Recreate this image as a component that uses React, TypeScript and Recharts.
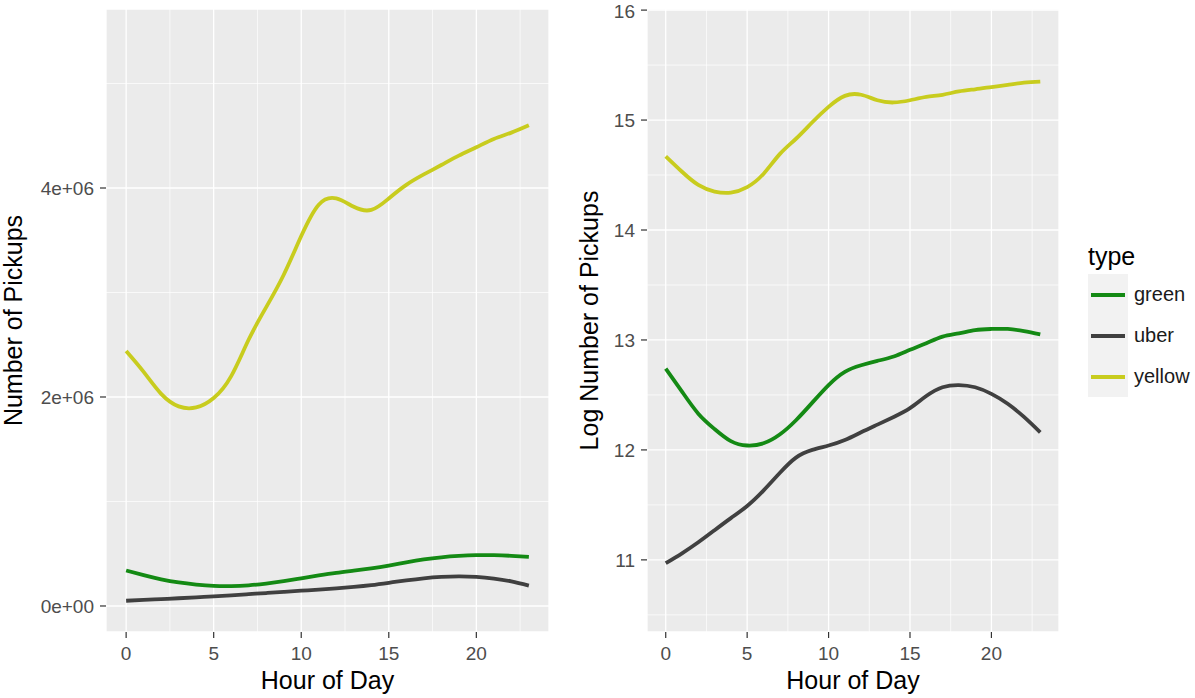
import React from 'react';
import { LineChart, Line, XAxis, YAxis, CartesianGrid, ReferenceLine, Label } from 'recharts';

// Hour of day, 0..23
const hours = [0, 1, 2, 3, 4, 5, 6, 7, 8, 9, 10, 11, 12, 13, 14, 15, 16, 17, 18, 19, 20, 21, 22, 23];

// Left panel: raw pickups (smoothed)
const rawYellow = [2.44e6, 2.24e6, 2.03e6, 1.91e6, 1.9e6, 1.99e6, 2.2e6, 2.55e6, 2.86e6, 3.17e6, 3.54e6, 3.84e6, 3.9e6, 3.82e6, 3.79e6, 3.9e6, 4.03e6, 4.13e6, 4.22e6, 4.31e6, 4.39e6, 4.47e6, 4.53e6, 4.6e6];
const rawGreen = [0.34e6, 0.295e6, 0.255e6, 0.225e6, 0.205e6, 0.192e6, 0.19e6, 0.198e6, 0.215e6, 0.238e6, 0.265e6, 0.292e6, 0.317e6, 0.338e6, 0.36e6, 0.387e6, 0.418e6, 0.446e6, 0.466e6, 0.479e6, 0.486e6, 0.486e6, 0.48e6, 0.47e6];
const rawUber = [0.05e6, 0.058e6, 0.066e6, 0.074e6, 0.083e6, 0.092e6, 0.102e6, 0.113e6, 0.124e6, 0.135e6, 0.146e6, 0.157e6, 0.169e6, 0.183e6, 0.2e6, 0.222e6, 0.245e6, 0.265e6, 0.278e6, 0.283e6, 0.278e6, 0.262e6, 0.235e6, 0.195e6];

// Right panel: log pickups (smoothed)
const logYellow = [14.67, 14.53, 14.41, 14.35, 14.34, 14.39, 14.51, 14.69, 14.83, 14.98, 15.12, 15.22, 15.23, 15.18, 15.16, 15.18, 15.21, 15.23, 15.26, 15.28, 15.3, 15.32, 15.34, 15.35];
const logGreen = [12.74, 12.53, 12.33, 12.19, 12.08, 12.04, 12.06, 12.14, 12.27, 12.43, 12.59, 12.71, 12.77, 12.81, 12.85, 12.91, 12.97, 13.03, 13.06, 13.09, 13.1, 13.1, 13.08, 13.05];
const logUber = [10.97, 11.06, 11.16, 11.27, 11.38, 11.49, 11.63, 11.79, 11.93, 12.0, 12.04, 12.09, 12.16, 12.23, 12.3, 12.38, 12.49, 12.57, 12.59, 12.57, 12.51, 12.42, 12.3, 12.16];

const xTicks = [0, 5, 10, 15, 20];
const xMinor = [2.5, 7.5, 12.5, 17.5, 22.5];
const rawTicks = [0, 2e6, 4e6];
const rawMinor = [1e6, 3e6, 5e6];
const logTicks = [11, 12, 13, 14, 15, 16];
const logMinor = [10.5, 11.5, 12.5, 13.5, 14.5, 15.5];

const seriesTypes = ['green', 'uber', 'yellow'];
const colors: Record<string, string> = { green: '#148a14', uber: '#404040', yellow: '#c8cc1e' };

const leftData = hours.map((h, i) => ({ hour: h, green: rawGreen[i], uber: rawUber[i], yellow: rawYellow[i] }));
const rightData = hours.map((h, i) => ({ hour: h, green: logGreen[i], uber: logUber[i], yellow: logYellow[i] }));

const FONT = '"Liberation Sans", Arial, Helvetica, sans-serif';
const tickStyle = { fill: '#4d4d4d', fontSize: 19, fontFamily: FONT };

// R style scientific label, e.g. 2e+06
const sci = (v: number) => {
    if (v === 0) return '0e+00';
    const [m, e] = v.toExponential(0).split('e');
    const n = Math.abs(parseInt(e, 10));
    return `${m}e${e[0]}${n < 10 ? '0' + n : n}`;
};

const yTitle = (text: string, x: number) => (props: any) => {
    const vb = props.viewBox;
    const cy = vb.y + vb.height / 2;
    return (
        <text x={x} y={cy} transform={`rotate(-90 ${x} ${cy})`} textAnchor="middle" fontSize={25} fontFamily={FONT} fill="#000">
            {text}
        </text>
    );
};

const Panel = ({ data, domain, ticks, minor, fmt, yWidth, width, title, titleX }: any) => (
    <LineChart width={width} height={698} data={data} margin={{ top: 9, right: 11, bottom: 0, left: 0 }}>
        <CartesianGrid fill="#ebebeb" stroke="#ffffff" strokeWidth={1.3} />
        {xMinor.map((v) => (
            <ReferenceLine key={'x' + v} x={v} stroke="#ffffff" strokeWidth={0.7} />
        ))}
        {minor.map((v: number) => (
            <ReferenceLine key={'y' + v} y={v} stroke="#ffffff" strokeWidth={0.7} />
        ))}
        <XAxis
            dataKey="hour"
            type="number"
            domain={[-1.15, 24.15]}
            ticks={xTicks}
            allowDataOverflow
            height={66}
            axisLine={false}
            tickLine={{ stroke: '#333333', strokeWidth: 1.2 }}
            tickSize={6}
            tickMargin={9}
            tick={tickStyle}
        >
            <Label value="Hour of Day" position="insideBottom" offset={9} fontSize={25} fontFamily={FONT} fill="#000" />
        </XAxis>
        <YAxis
            type="number"
            domain={domain}
            ticks={ticks}
            allowDataOverflow
            width={yWidth}
            axisLine={false}
            tickLine={{ stroke: '#333333', strokeWidth: 1.2 }}
            tickSize={6}
            tickMargin={6}
            tick={tickStyle}
            tickFormatter={fmt}
        >
            <Label content={yTitle(title, titleX)} />
        </YAxis>
        {seriesTypes.map((s) => (
            <Line key={s} dataKey={s} type="natural" stroke={colors[s]} strokeWidth={3.8} dot={false} activeDot={false} isAnimationActive={false} />
        ))}
    </LineChart>
);

const LegendBox = () => (
    <div style={{ position: 'absolute', left: 1088, top: 241, fontFamily: FONT }}>
        <div style={{ fontSize: 25, lineHeight: '30px', height: 33, color: '#000' }}>type</div>
        {seriesTypes.map((s) => (
            <div key={s} style={{ display: 'flex', alignItems: 'center', height: 41 }}>
                <div style={{ width: 40, height: 41, background: '#f2f2f2', display: 'flex', alignItems: 'center', justifyContent: 'center' }}>
                    <div style={{ width: 34, height: 4, background: colors[s] }} />
                </div>
                <span style={{ fontSize: 20, marginLeft: 6, color: '#1a1a1a' }}>{s}</span>
            </div>
        ))}
    </div>
);

export default function App() {
    return (
        <div style={{ position: 'absolute', left: 0, top: 0, width: 1195, height: 698, background: '#fff', overflow: 'hidden' }}>
            <div style={{ position: 'absolute', left: 0, top: 0 }}>
                <Panel data={leftData} domain={[-0.249e6, 5.713e6]} ticks={rawTicks} minor={rawMinor} fmt={sci} yWidth={106} width={560} title="Number of Pickups" titleX={22} />
            </div>
            <div style={{ position: 'absolute', left: 560, top: 0 }}>
                <Panel data={rightData} domain={[10.344, 16.01]} ticks={logTicks} minor={logMinor} fmt={(v: number) => String(v)} yWidth={87} width={510} title="Log Number of Pickups" titleX={38} />
            </div>
            <LegendBox />
        </div>
    );
}
